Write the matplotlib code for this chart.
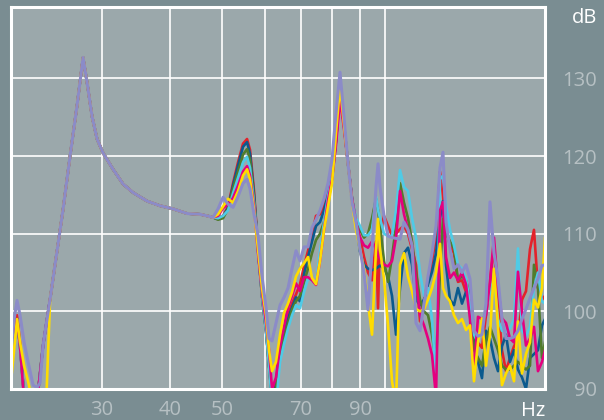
import numpy as np
import matplotlib.pyplot as plt

plt.rcParams['font.family'] = ['Open Sans', 'DejaVu Sans']

# frequency grid (Hz), split in three parts
head_freq = [20.36, 20.63, 20.89, 21.16, 21.53, 21.89, 22.37, 22.75, 23.04, 23.34, 23.64]
body_freq = [24.05, 24.56, 25.42, 26.18, 26.97, 27.67, 28.14, 28.75, 29.37, 30.13,
             31.44, 32.81, 34.23, 36.34, 38.41, 40.58, 43.08, 45.53, 46.91, 48.12]
tail_freq = [49.15, 50.21, 51.29, 52.39, 53.52, 54.67, 55.61, 56.32, 57.29, 58.27,
             59.27, 60.29, 61.07, 61.85, 62.91, 64.00, 65.09, 66.21, 67.35, 68.50,
             69.68, 70.88, 72.09, 73.33, 74.59, 75.87, 77.17, 78.50, 79.85, 81.22,
             82.61, 84.03, 85.48, 86.94, 88.43, 89.95, 91.50, 93.07, 94.67, 96.29,
             97.12, 97.95, 99.63, 101.34, 103.08, 104.85, 106.65, 108.48, 110.34, 112.24,
             114.17, 116.13, 118.12, 120.15, 122.21, 124.31, 126.44, 128.06, 129.71, 131.93,
             134.20, 136.50, 138.85, 141.23, 143.66, 146.12, 148.63, 151.18, 153.78, 156.42,
             159.11, 161.84, 164.62, 167.45, 170.32, 173.25, 176.22, 179.25, 182.33, 185.46,
             188.64, 191.88, 195.18, 197.69]

# shared part of all curves (dB)
body_db = [101.6, 106.0, 113.2, 120.0, 126.5, 132.7, 129.5, 125.1, 122.2, 120.4,
           118.3, 116.4, 115.3, 114.2, 113.6, 113.2, 112.6, 112.5, 112.3, 112.1]

red_head = [96.5, 98.5, 99.5, 96.0, 89.0, 86.0, 85.0, 88.5, 92.0, 95.6, 98.2]
red_tail = [112.0, 112.3, 113.5, 116.5, 119.2, 121.6, 122.2, 120.8, 115.5, 108.0,
            102.0, 97.5, 93.0, 89.0, 91.0, 95.5, 97.5, 99.5, 101.0, 102.2,
            103.5, 105.8, 107.8, 110.0, 112.3, 112.5, 113.5, 115.5, 117.5, 122.0,
            128.0, 124.0, 119.0, 114.5, 111.5, 109.5, 107.0, 105.0, 104.0, 109.0,
            100.4, 110.0, 112.3, 111.0, 109.7, 110.0, 110.6, 111.0, 110.0, 108.0,
            106.0, 98.7, 101.5, 103.8, 106.5, 109.5, 118.0, 115.0, 110.5, 108.5,
            107.5, 103.8, 104.0, 102.5, 102.6, 97.5, 96.0, 95.3, 99.5, 103.8,
            108.5, 101.0, 95.0, 92.3, 94.0, 95.5, 96.5, 101.5, 102.6, 108.0,
            110.5, 103.0, 101.5, 102.0]

magenta_head = [96.0, 98.0, 99.0, 95.5, 88.5, 86.0, 85.0, 88.5, 92.0, 95.6, 98.2]
magenta_tail = [112.3, 113.3, 113.8, 114.6, 116.2, 118.0, 118.7, 117.5, 113.5, 107.5,
                102.5, 98.5, 95.0, 90.0, 91.5, 95.5, 98.0, 100.5, 102.0, 103.6,
                102.6, 104.4, 104.4, 104.0, 103.4, 106.5, 110.5, 114.3, 117.0, 121.5,
                127.3, 123.5, 119.0, 114.5, 111.5, 109.5, 108.5, 108.2, 109.0, 108.0,
                107.2, 106.8, 106.0, 105.8, 106.5, 109.5, 115.5, 112.5, 110.5, 108.5,
                104.0, 99.5, 98.2, 96.5, 94.4, 89.0, 113.0, 114.1, 107.0, 104.3,
                105.0, 104.0, 105.0, 103.5, 99.0, 92.0, 99.3, 99.0, 99.5, 103.8,
                109.5, 103.0, 99.1, 98.5, 96.5, 96.0, 105.1, 100.0, 95.6, 96.5,
                98.0, 92.3, 93.5, 95.0]

blue_head = [96.0, 98.0, 99.0, 95.5, 89.0, 86.0, 85.0, 88.5, 92.0, 95.6, 98.2]
blue_tail = [111.9, 112.2, 113.3, 116.2, 118.8, 121.2, 121.8, 120.3, 115.0, 108.0,
             102.0, 97.5, 93.0, 88.5, 90.5, 95.0, 97.0, 99.0, 100.5, 101.8,
             101.3, 104.8, 107.0, 109.0, 111.0, 111.5, 113.0, 115.0, 117.3, 122.0,
             128.5, 124.0, 119.0, 114.5, 111.5, 107.7, 106.0, 105.5, 105.3, 105.5,
             105.7, 105.9, 105.5, 104.5, 102.0, 97.0, 103.0, 107.5, 108.2, 106.0,
             101.5, 100.8, 101.5, 103.5, 105.1, 107.5, 112.0, 114.2, 106.0, 101.5,
             100.8, 103.0, 101.0, 102.5, 102.1, 96.0, 93.5, 91.4, 97.5, 96.5,
             94.0, 92.3, 95.5, 97.0, 93.5, 95.0, 92.5, 91.5, 90.0, 94.0,
             94.5, 95.0, 98.2, 99.0]

green_head = [96.0, 98.0, 99.0, 95.5, 89.0, 86.0, 85.0, 88.5, 92.0, 95.6, 98.2]
green_tail = [111.8, 112.0, 113.2, 115.8, 118.0, 120.2, 120.9, 119.5, 114.5, 108.0,
              102.0, 97.5, 93.0, 88.5, 90.0, 94.5, 96.5, 98.5, 100.2, 101.3,
              102.0, 103.8, 105.5, 107.5, 109.2, 110.0, 111.5, 114.0, 117.0, 122.0,
              129.0, 124.0, 119.0, 114.5, 111.8, 110.5, 109.5, 110.0, 112.0, 114.5,
              113.0, 111.0, 106.5, 103.8, 107.0, 111.0, 116.5, 114.0, 112.0, 109.0,
              105.0, 101.5, 100.0, 99.5, 97.0, 93.5, 105.0, 111.9, 110.0, 109.0,
              108.1, 104.0, 104.5, 104.0, 102.0, 95.0, 94.0, 93.0, 96.0, 98.0,
              96.5, 95.0, 93.0, 92.5, 92.5, 93.0, 93.5, 93.0, 92.5, 93.0,
              106.0, 103.0, 94.0, 96.0]

cyan_head = [96.0, 98.0, 99.0, 95.5, 89.0, 86.0, 85.0, 88.5, 92.0, 95.6, 98.2]
cyan_tail = [112.0, 112.3, 113.0, 115.2, 117.2, 119.2, 119.9, 118.5, 114.0, 108.0,
             102.0, 97.5, 93.0, 88.0, 88.0, 93.5, 95.8, 97.8, 99.5, 100.8,
             100.4, 102.5, 104.2, 104.0, 103.8, 107.7, 111.5, 114.8, 117.5, 122.5,
             129.5, 124.0, 119.0, 114.5, 112.0, 111.0, 109.8, 109.8, 110.5, 114.8,
             113.0, 112.0, 110.0, 109.7, 109.7, 113.0, 118.2, 116.0, 115.5, 112.0,
             109.5, 105.0, 102.0, 103.0, 99.0, 91.0, 117.0, 117.5, 113.6, 110.5,
             108.5, 106.0, 105.5, 104.2, 101.0, 97.0, 96.0, 98.2, 100.5, 102.5,
             104.0, 99.0, 97.5, 97.4, 97.8, 99.0, 108.1, 97.5, 96.8, 98.0,
             103.0, 105.0, 101.3, 101.0]

yellow_head = [91.0, 95.0, 99.0, 96.0, 93.0, 91.0, 88.0, 86.0, 86.0, 86.0, 88.0]
yellow_tail = [112.5, 113.5, 114.5, 114.0, 115.5, 117.5, 118.3, 117.0, 113.0, 108.0,
               103.0, 99.5, 95.0, 92.3, 93.5, 97.0, 99.8, 101.0, 102.5, 104.5,
               105.5, 106.2, 107.0, 104.3, 103.5, 106.5, 110.5, 113.5, 116.5, 123.0,
               129.0, 124.0, 119.0, 114.0, 110.5, 108.0, 105.5, 101.0, 97.0, 108.0,
               111.9, 108.0, 104.2, 98.2, 91.0, 88.0, 106.0, 107.5, 104.5, 102.6,
               100.3, 100.0, 100.3, 101.5, 103.0, 105.0, 108.7, 103.0, 102.0, 101.3,
               99.5, 98.5, 99.0, 97.6, 98.2, 91.0, 96.0, 99.1, 93.0, 97.0,
               105.5, 98.0, 90.5, 92.0, 93.0, 91.0, 98.7, 92.0, 94.5, 96.0,
               101.5, 100.5, 103.0, 109.4]

lavender_head = [95.0, 99.0, 101.4, 99.5, 96.0, 93.5, 90.5, 90.2, 90.8, 95.6, 98.2]
lavender_tail = [113.2, 114.7, 113.8, 113.4, 114.8, 116.5, 117.0, 115.8, 112.5, 109.8,
                 104.5, 100.5, 96.5, 96.2, 98.5, 100.8, 101.8, 103.0, 105.5, 107.8,
                 106.5, 108.3, 108.3, 110.8, 111.8, 113.0, 114.5, 116.5, 119.6, 125.5,
                 130.8, 125.0, 119.0, 114.0, 111.5, 108.0, 105.0, 100.2, 108.0, 116.0,
                 119.0, 116.0, 112.3, 109.7, 109.5, 109.4, 109.3, 111.5, 110.5, 108.5,
                 98.5, 97.5, 101.0, 104.5, 107.5, 111.0, 118.5, 120.5, 111.5, 108.0,
                 105.5, 106.0, 105.0, 106.0, 104.2, 97.5, 96.8, 97.0, 101.0, 114.1,
                 107.5, 104.2, 99.0, 96.5, 96.5, 96.7, 97.5, 99.0, 100.3, 101.7,
                 103.0, 104.2, 105.9, 106.0]

series = [
    (red_head, red_tail, '#e3222b'),
    (blue_head, blue_tail, '#0b5a8e'),
    (green_head, green_tail, '#517c2c'),
    (cyan_head, cyan_tail, '#4fcbe6'),
    (magenta_head, magenta_tail, '#e4007f'),
    (yellow_head, yellow_tail, '#ffdc00'),
    (lavender_head, lavender_tail, '#8b8bc8'),
]

freq = np.concatenate([head_freq, body_freq, tail_freq])

fig = plt.figure(figsize=(6.04, 4.20), dpi=100, facecolor='#7a8d92')
ax = fig.add_axes([11/604, 31/420, 534/604, 382/420], facecolor='#9ba8ab')

for head, tail, col in series:
    db = np.concatenate([head, body_db, tail])
    lw = 2.2 if col == '#8b8bc8' else 1.9
    ax.plot(freq, db, color=col, lw=lw, solid_joinstyle='round')

ax.set_xscale('log')
ax.set_xlim(20.36, 197.7)
ax.set_ylim(90.3, 139.2)

ax.set_xticks([30, 40, 50, 60, 70, 80, 90, 100])
ax.set_xticklabels(['30', '40', '50', '', '70', '', '90', ''])
ax.xaxis.set_minor_locator(plt.NullLocator())
ax.set_yticks([90, 100, 110, 120, 130])
ax.yaxis.tick_right()

ax.grid(True, color='white', lw=1.2)
ax.set_axisbelow(True)
for s in ax.spines.values():
    s.set_color('white')
    s.set_linewidth(2.2)

lab_col = '#b6c0c3'
ax.tick_params(axis='both', length=0, labelsize=14.5, labelcolor=lab_col)
ax.tick_params(axis='x', pad=8)
ax.tick_params(axis='y', pad=37.5)
for t in ax.get_yticklabels():
    t.set_ha('right')

fig.text(545/604, 1 - 401/420, 'Hz', ha='right', va='top', color='white', fontsize=14.5)
fig.text(597/604, 1 - 8/420, 'dB', ha='right', va='top', color='white', fontsize=14.5)

fig.savefig('out.png', dpi=100, facecolor=fig.get_facecolor())
